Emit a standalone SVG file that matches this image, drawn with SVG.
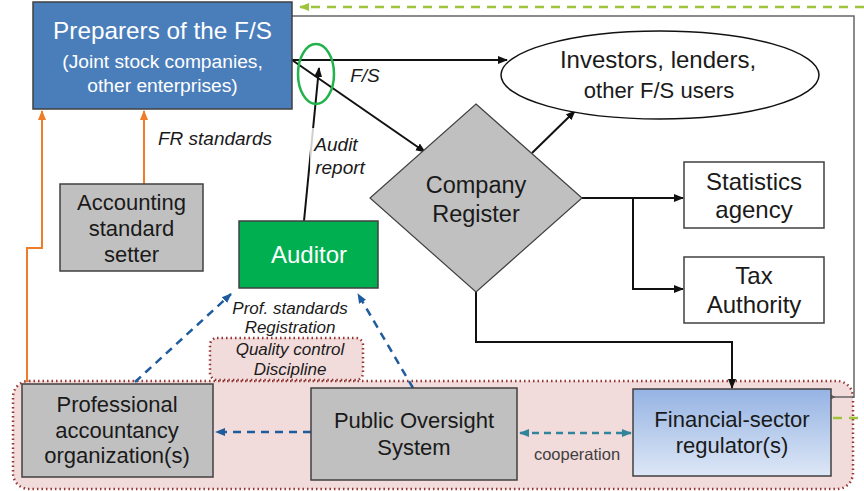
<svg xmlns="http://www.w3.org/2000/svg" width="864" height="491" viewBox="0 0 864 491">
<defs>
<style>
.t{font-family:"Liberation Sans",Arial,sans-serif;fill:#1a1a1a;text-anchor:middle}
.w{fill:#ffffff}
.it{font-style:italic;font-size:19px}
.box{stroke:#404040;stroke-width:1.5}
.gray{fill:#c0c0c0}
.blk{fill:none;stroke:#111;stroke-width:2}
.orange{fill:none;stroke:#f07c28;stroke-width:2}
.bdash{fill:none;stroke:#1f5c9e;stroke-width:2.5;stroke-dasharray:8,6}
.tdash{fill:none;stroke:#31849b;stroke-width:2.5;stroke-dasharray:7,5}
.gdash{fill:none;stroke:#9dc43a;stroke-width:2.5;stroke-dasharray:9,7}
.dot{fill:#f2dcdb;stroke:#953735;stroke-width:2.5;stroke-dasharray:1.5,3}
</style>
<marker id="ab" viewBox="0 0 10 10" refX="9" refY="5" markerWidth="5" markerHeight="5" orient="auto"><path d="M0,1 L10,5 L0,9 z" fill="#111"/></marker>
<marker id="ao" viewBox="0 0 10 10" refX="9" refY="5" markerWidth="5" markerHeight="5" orient="auto"><path d="M0,1 L10,5 L0,9 z" fill="#f07c28"/></marker>
<marker id="abl" viewBox="0 0 10 10" refX="9" refY="5" markerWidth="4" markerHeight="4" orient="auto"><path d="M0,1 L10,5 L0,9 z" fill="#1f5c9e"/></marker>
<marker id="at" viewBox="0 0 10 10" refX="9" refY="5" markerWidth="4" markerHeight="4" orient="auto-start-reverse"><path d="M0,1 L10,5 L0,9 z" fill="#31849b"/></marker>
<marker id="ag" viewBox="0 0 10 10" refX="9" refY="5" markerWidth="4" markerHeight="4" orient="auto"><path d="M0,1 L10,5 L0,9 z" fill="#9dc43a"/></marker>
<marker id="aopen" viewBox="0 0 10 10" refX="1" refY="5" markerWidth="8" markerHeight="8" orient="auto"><path d="M9,1 L1,5 L9,9" fill="none" stroke="#555" stroke-width="1.2"/></marker>
<linearGradient id="gr" x1="0" y1="0" x2="0" y2="1"><stop offset="0" stop-color="#95b3e3"/><stop offset="1" stop-color="#dde7f6"/></linearGradient>
</defs>

<g id="oversight-area">
<rect x="13" y="381" width="840" height="108" rx="16" class="dot"/>
<rect x="210" y="338" width="153" height="42" rx="7" class="dot"/>
<text class="t" x="290" y="355" style="font-style:italic;font-size:17px">Quality control</text>
<text class="t" x="290" y="375" style="font-style:italic;font-size:17px">Discipline</text>
</g>

<g id="connectors">
<path d="M292,16 H854 V397 H834" fill="none" stroke="#666" stroke-width="1.5" marker-end="url(#aopen)"/>
<path d="M864,7 H300" class="gdash" marker-end="url(#ag)"/>
<path d="M833,418 H864" class="gdash"/>
<path d="M144,184 V111" class="orange" marker-end="url(#ao)"/>
<path d="M27,382 V248 H42 V111" class="orange" marker-end="url(#ao)"/>
<path d="M292,60 H507" class="blk" marker-end="url(#ab)"/>
<path d="M292,60 L425,152" class="blk" marker-end="url(#ab)"/>
<path d="M304,221 L319,68" class="blk" marker-end="url(#ab)"/>
<path d="M532,153 L575,111" class="blk" marker-end="url(#ab)"/>
<path d="M582,198 H683" class="blk" marker-end="url(#ab)"/>
<path d="M633,198 V289 H683" class="blk" marker-end="url(#ab)"/>
<path d="M476,292 V342 H732 V388" class="blk" marker-end="url(#ab)"/>
<path d="M135,382 L231,294" class="bdash" marker-end="url(#abl)"/>
<path d="M413,388 L358,294" class="bdash" marker-end="url(#abl)"/>
<path d="M311,432 L216,432" class="bdash" marker-end="url(#abl)"/>
<path d="M520,433 L631,433" class="tdash" marker-start="url(#at)" marker-end="url(#at)"/>
<ellipse cx="316" cy="74" rx="18" ry="30" fill="none" stroke="#22b24c" stroke-width="2.5"/>
<rect x="310" y="128" width="62" height="52" fill="#fff" opacity="0.8"/>
<text class="t it" x="365" y="82">F/S</text>
<text class="t it" x="215" y="145">FR standards</text>
<text class="t it" x="336" y="151">Audit</text>
<text class="t it" x="340" y="174">report</text>
<text class="t" x="290" y="314" style="font-style:italic;font-size:17px">Prof. standards</text>
<text class="t" x="290" y="333" style="font-style:italic;font-size:17px">Registration</text>
<text class="t" x="577" y="460" style="font-size:16.5px;fill:#404040">cooperation</text>
</g>

<g id="preparers">
<rect x="33" y="2" width="259" height="107" fill="#4a7ebb" class="box"/>
<text class="t w" x="162.5" y="39" style="font-size:24.3px">Preparers of the F/S</text>
<text class="t w" x="162.5" y="68" style="font-size:19.2px">(Joint stock companies,</text>
<text class="t w" x="162.5" y="92" style="font-size:19.2px">other enterprises)</text>
</g>

<g id="standard-setter">
<rect x="60" y="184" width="143" height="87" class="box gray"/>
<text class="t" x="131.5" y="210" style="font-size:22px">Accounting</text>
<text class="t" x="131.5" y="236" style="font-size:22px">standard</text>
<text class="t" x="131.5" y="262" style="font-size:22px">setter</text>
</g>

<g id="auditor">
<rect x="239" y="221" width="139" height="67" fill="#00b050" class="box"/>
<text class="t w" x="309" y="263" style="font-size:24px">Auditor</text>
</g>

<g id="investors">
<ellipse cx="660" cy="75" rx="159" ry="44" fill="#fff" stroke="#111" stroke-width="1.5"/>
<text class="t" x="658" y="68" style="font-size:24px">Investors, lenders,</text>
<text class="t" x="659" y="98" style="font-size:22px">other F/S users</text>
</g>

<g id="company-register">
<polygon points="476,104 582,198 476,292 370,198" class="gray" stroke="#404040" stroke-width="1.2"/>
<text class="t" x="476" y="193" style="font-size:23.5px">Company</text>
<text class="t" x="476" y="222" style="font-size:23.5px">Register</text>
</g>

<g id="statistics">
<rect x="684" y="162" width="140" height="66" fill="#fff" class="box"/>
<text class="t" x="754" y="190" style="font-size:24px">Statistics</text>
<text class="t" x="754" y="218" style="font-size:24px">agency</text>
</g>

<g id="tax">
<rect x="684" y="257" width="140" height="66" fill="#fff" class="box"/>
<text class="t" x="754" y="284" style="font-size:24px">Tax</text>
<text class="t" x="754" y="313" style="font-size:24px">Authority</text>
</g>

<g id="professional">
<rect x="22" y="384" width="191" height="93" class="box gray"/>
<text class="t" x="117" y="412" style="font-size:22px">Professional</text>
<text class="t" x="117" y="438" style="font-size:22px">accountancy</text>
<text class="t" x="117" y="463" style="font-size:22px">organization(s)</text>
</g>

<g id="public-oversight">
<rect x="311" y="388" width="206" height="92" class="box gray"/>
<text class="t" x="414" y="428" style="font-size:22px">Public Oversight</text>
<text class="t" x="414" y="455" style="font-size:22px">System</text>
</g>

<g id="regulator">
<rect x="633" y="389" width="198" height="87" fill="url(#gr)" class="box"/>
<text class="t" x="732" y="427" style="font-size:22px">Financial-sector</text>
<text class="t" x="732" y="453" style="font-size:22px">regulator(s)</text>
</g>
</svg>
